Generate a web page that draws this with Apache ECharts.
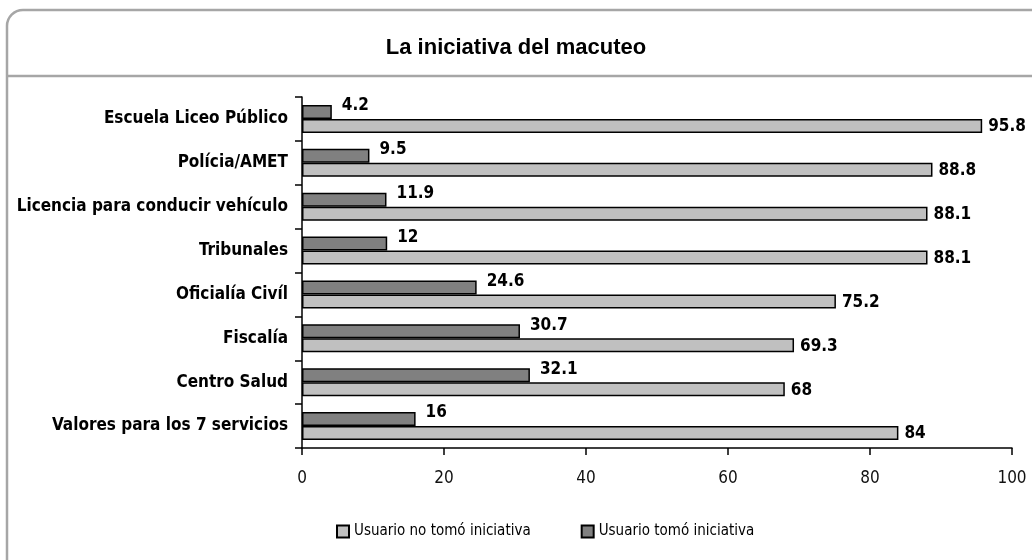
<!DOCTYPE html>
<html>
<head>
<meta charset="utf-8">
<script src="https://cdn.jsdelivr.net/npm/echarts@6/dist/echarts.min.js"></script>
<style>
  html, body { margin: 0; padding: 0; background: #fff; }
  #main { width: 1032px; height: 560px; }
</style>
</head>
<body>
<div id="main"></div>
<script>
var categories = [
    'Escuela Liceo Público',
    'Polícia/AMET',
    'Licencia para conducir vehículo',
    'Tribunales',
    'Oficialía Civíl',
    'Fiscalía',
    'Centro Salud',
    'Valores para los 7 servicios'
];
var tomo = [4.2, 9.5, 11.9, 12, 24.6, 30.7, 32.1, 16];
var noTomo = [95.8, 88.8, 88.1, 88.1, 75.2, 69.3, 68, 84];

var narrow = "'Liberation Sans Narrow', 'DejaVu Sans Condensed', sans-serif";

var chartDom = document.getElementById('main');
var myChart = echarts.init(chartDom);
var option;

option = {
    animation: false,
    title: {
        text: 'La iniciativa del macuteo',
        left: 'center',
        top: 32,
        textStyle: {
            fontFamily: "'Liberation Sans', Arial, sans-serif",
            fontSize: 22,
            fontWeight: 'bold',
            color: '#000'
        }
    },
    graphic: [
        {
            type: 'rect',
            shape: { x: 7, y: 10, width: 1060, height: 580, r: 16 },
            style: { fill: null, stroke: '#a6a6a6', lineWidth: 2.5 },
            silent: true
        },
        {
            type: 'line',
            shape: { x1: 7, y1: 76, x2: 1032, y2: 76 },
            style: { stroke: '#a6a6a6', lineWidth: 2.5 },
            silent: true
        }
    ],
    legend: {
        data: ['Usuario no tomó iniciativa', 'Usuario tomó iniciativa'],
        left: 331,
        top: 519,
        itemWidth: 12,
        itemHeight: 12,
        itemGap: 50,
        icon: 'rect',
        textStyle: {
            fontFamily: narrow,
            fontSize: 15,
            color: '#000'
        }
    },
    grid: {
        left: 302,
        right: 20,
        top: 97,
        bottom: 112,
        containLabel: false
    },
    xAxis: {
        type: 'value',
        min: 0,
        max: 100,
        interval: 20,
        axisLine: { show: true, lineStyle: { color: '#000', width: 1.5 } },
        axisTick: { show: true, length: 7, lineStyle: { color: '#000', width: 1.5 } },
        splitLine: { show: false },
        axisLabel: {
            margin: 22,
            fontFamily: narrow,
            fontSize: 17,
            color: '#111'
        }
    },
    yAxis: {
        type: 'category',
        data: categories,
        inverse: true,
        axisLine: { lineStyle: { color: '#000', width: 1.5 } },
        axisTick: { show: true, length: 7, lineStyle: { color: '#000', width: 1.5 } },
        axisLabel: {
            margin: 14,
            fontFamily: narrow,
            fontSize: 17,
            fontWeight: 'bold',
            color: '#000'
        }
    },
    series: [
        {
            name: 'Usuario tomó iniciativa',
            type: 'bar',
            data: tomo,
            barWidth: 14,
            barGap: '0%',
            itemStyle: { color: '#808080', borderColor: '#000', borderWidth: 1.5 },
            label: {
                show: true,
                position: 'right',
                distance: 10,
                offset: [0, -6],
                fontFamily: narrow,
                fontSize: 17,
                fontWeight: 'bold',
                color: '#000'
            }
        },
        {
            name: 'Usuario no tomó iniciativa',
            type: 'bar',
            data: noTomo,
            barWidth: 14,
            barGap: '0%',
            itemStyle: { color: '#c0c0c0', borderColor: '#000', borderWidth: 1.5 },
            label: {
                show: true,
                position: 'right',
                distance: 6,
                offset: [0, 1],
                fontFamily: narrow,
                fontSize: 17,
                fontWeight: 'bold',
                color: '#000'
            }
        }
    ]
};

option && myChart.setOption(option);
</script>
</body>
</html>
